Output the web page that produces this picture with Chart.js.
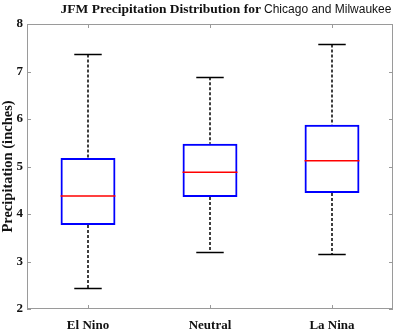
<!DOCTYPE html>
<html>
<head>
<meta charset="utf-8">
<script src="https://cdn.jsdelivr.net/npm/chart.js@4"></script>
<style>
  html, body { margin: 0; padding: 0; background: #fff; }
  #wrap { position: relative; width: 400px; height: 334px; }
  #title {
    position: absolute; left: 0; width: 400px; top: 1px; text-align: center;
    font: bold 13.5px 'Liberation Serif', serif; color: #111; white-space: nowrap;
    padding-left: 52px; box-sizing: border-box;
  }
  #title span { font: 12px 'Liberation Sans', sans-serif; }
</style>
</head>
<body>
<div id="wrap">
  <canvas id="chart" width="400" height="334"></canvas>
  <div id="title">JFM Precipitation Distribution for <span>Chicago and Milwaukee</span></div>
</div>
<script>
// ENSO phase categories and box statistics (inches)
const categories = ['El Nino', 'Neutral', 'La Nina'];
const whiskerLow = [2.44, 3.20, 3.16];
const quart1 = [3.77, 4.36, 4.44];
const medians = [4.38, 4.88, 5.12];
const quart3 = [5.18, 5.48, 5.88];
const whiskerHigh = [7.36, 6.88, 7.57];
const yTicks = [2, 3, 4, 5, 6, 7, 8];

const SERIF = "'Liberation Serif', 'DejaVu Serif', serif";
const FRAME = '#9a9a9a';

const boxExtras = {
  id: 'boxExtras',
  afterDatasetsDraw(chart) {
    const { ctx, scales: { x, y }, chartArea: a } = chart;
    const meta = chart.getDatasetMeta(0);
    ctx.save();
    categories.forEach((_, i) => {
      const cx = x.getPixelForValue(i);
      const half = meta.data[i].width / 2;
      // whiskers
      ctx.strokeStyle = '#000';
      ctx.lineWidth = 1.5;
      ctx.setLineDash([3, 2]);
      ctx.beginPath();
      ctx.moveTo(cx, y.getPixelForValue(whiskerHigh[i]));
      ctx.lineTo(cx, y.getPixelForValue(quart3[i]));
      ctx.moveTo(cx, y.getPixelForValue(quart1[i]));
      ctx.lineTo(cx, y.getPixelForValue(whiskerLow[i]));
      ctx.stroke();
      ctx.setLineDash([]);
      // caps
      ctx.beginPath();
      [whiskerHigh[i], whiskerLow[i]].forEach(v => {
        const py = Math.round(y.getPixelForValue(v)) + 0.5;
        ctx.moveTo(cx - half / 2, py);
        ctx.lineTo(cx + half / 2, py);
      });
      ctx.stroke();
      // median
      ctx.strokeStyle = '#ff0000';
      ctx.lineWidth = 1.5;
      ctx.beginPath();
      const my = y.getPixelForValue(medians[i]);
      ctx.moveTo(cx - half, my);
      ctx.lineTo(cx + half, my);
      ctx.stroke();
    });
    // frame and inward ticks
    ctx.strokeStyle = FRAME;
    ctx.lineWidth = 1;
    ctx.strokeRect(a.left + 0.5, a.top + 0.5, a.right - a.left - 1, a.bottom - a.top - 1);
    ctx.beginPath();
    yTicks.forEach(v => {
      const py = Math.round(y.getPixelForValue(v)) + 0.5;
      ctx.moveTo(a.left, py); ctx.lineTo(a.left + 4, py);
      ctx.moveTo(a.right, py); ctx.lineTo(a.right - 4, py);
    });
    categories.forEach((_, i) => {
      const px = Math.round(x.getPixelForValue(i)) + 0.5;
      ctx.moveTo(px, a.bottom); ctx.lineTo(px, a.bottom - 4);
      ctx.moveTo(px, a.top); ctx.lineTo(px, a.top + 4);
    });
    ctx.stroke();
    // y axis title
    ctx.fillStyle = '#111';
    ctx.font = 'bold 14.5px ' + SERIF;
    ctx.textAlign = 'center';
    ctx.textBaseline = 'middle';
    ctx.translate(8, (a.top + a.bottom) / 2);
    ctx.rotate(-Math.PI / 2);
    ctx.fillText('Precipitation (inches)', 0, 0);
    ctx.restore();
  }
};

new Chart(document.getElementById('chart'), {
  type: 'bar',
  data: {
    labels: categories,
    datasets: [{
      data: categories.map((_, i) => [quart1[i], quart3[i]]),
      backgroundColor: 'rgba(0,0,0,0)',
      borderColor: '#0000ff',
      borderWidth: 2,
      borderSkipped: false,
      barPercentage: 0.45,
      categoryPercentage: 1
    }]
  },
  options: {
    responsive: false,
    animation: false,
    layout: { padding: { top: 24, right: 7, left: 0, bottom: 0 } },
    plugins: { legend: { display: false }, tooltip: { enabled: false } },
    scales: {
      x: {
        grid: { display: false, drawTicks: false, tickLength: 0 },
        border: { display: false },
        ticks: { color: '#111', font: { family: SERIF, size: 13, weight: 'bold' }, padding: 9, maxRotation: 0 },
        afterFit(s) { s.height = 25; }
      },
      y: {
        min: 2, max: 8,
        grid: { display: false, drawTicks: false, tickLength: 0 },
        border: { display: false },
        afterBuildTicks(s) { s.ticks = yTicks.map(v => ({ value: v })); },
        ticks: { color: '#111', font: { family: SERIF, size: 13, weight: 'bold' }, padding: 4 },
        afterFit(s) { s.width = 27; }
      }
    }
  },
  plugins: [boxExtras]
});
</script>
</body>
</html>
